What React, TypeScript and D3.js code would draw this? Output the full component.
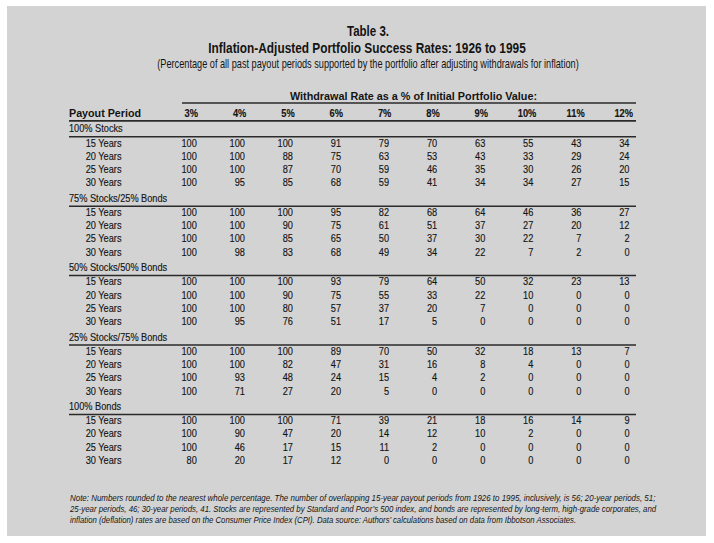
import React, { useLayoutEffect, useRef, useState } from "react";
import * as d3 from "d3";

const rates = ["3%", "4%", "5%", "6%", "7%", "8%", "9%", "10%", "11%", "12%"];
const periods = ["15 Years", "20 Years", "25 Years", "30 Years"];
const groups = [
  "100% Stocks",
  "75% Stocks/25% Bonds",
  "50% Stocks/50% Bonds",
  "25% Stocks/75% Bonds",
  "100% Bonds",
];
const stocks100 = [
  [100, 100, 100, 91, 79, 70, 63, 55, 43, 34],
  [100, 100, 88, 75, 63, 53, 43, 33, 29, 24],
  [100, 100, 87, 70, 59, 46, 35, 30, 26, 20],
  [100, 95, 85, 68, 59, 41, 34, 34, 27, 15],
];
const stocks75 = [
  [100, 100, 100, 95, 82, 68, 64, 46, 36, 27],
  [100, 100, 90, 75, 61, 51, 37, 27, 20, 12],
  [100, 100, 85, 65, 50, 37, 30, 22, 7, 2],
  [100, 98, 83, 68, 49, 34, 22, 7, 2, 0],
];
const stocks50 = [
  [100, 100, 100, 93, 79, 64, 50, 32, 23, 13],
  [100, 100, 90, 75, 55, 33, 22, 10, 0, 0],
  [100, 100, 80, 57, 37, 20, 7, 0, 0, 0],
  [100, 95, 76, 51, 17, 5, 0, 0, 0, 0],
];
const stocks25 = [
  [100, 100, 100, 89, 70, 50, 32, 18, 13, 7],
  [100, 100, 82, 47, 31, 16, 8, 4, 0, 0],
  [100, 93, 48, 24, 15, 4, 2, 0, 0, 0],
  [100, 71, 27, 20, 5, 0, 0, 0, 0, 0],
];
const bonds100 = [
  [100, 100, 100, 71, 39, 21, 18, 16, 14, 9],
  [100, 90, 47, 20, 14, 12, 10, 2, 0, 0],
  [100, 46, 17, 15, 11, 2, 0, 0, 0, 0],
  [80, 20, 17, 12, 0, 0, 0, 0, 0, 0],
];
const groupValues = [stocks100, stocks75, stocks50, stocks25, bonds100];

const titleLines = [
  "Table 3.",
  "Inflation-Adjusted Portfolio Success Rates: 1926 to 1995",
  "(Percentage of all past payout periods supported by the portfolio after adjusting withdrawals for inflation)",
];
const spannerLabel = "Withdrawal Rate as a % of Initial Portfolio Value:";
const rowHeader = "Payout Period";
const noteLines = [
  "Note: Numbers rounded to the nearest whole percentage. The number of overlapping 15-year payout periods from 1926 to 1995, inclusively, is 56; 20-year periods, 51;",
  "25-year periods, 46; 30-year periods, 41. Stocks are represented by Standard and Poor\u2019s 500 index, and bonds are represented by long-term, high-grade corporates, and",
  "inflation (deflation) rates are based on the Consumer Price Index (CPI). Data source: Authors\u2019 calculations based on data from Ibbotson Associates.",
];

const W = 714;
const H = 543;
const FONT = "'Liberation Sans', Arial, sans-serif";
const INK = "#141414";
const LINE = "#2a2a2a";
const SX = 0.83;

type TProps = {
  x: number;
  y: number;
  anchor?: "start" | "middle" | "end";
  bold?: boolean;
  size?: number;
  children: React.ReactNode;
};

function T({ x, y, anchor = "start", bold = false, size = 11.1, children }: TProps) {
  return (
    <text
      transform={`translate(${x},${y}) scale(${SX},1)`}
      textAnchor={anchor}
      fontFamily={FONT}
      fontWeight={bold ? "bold" : "normal"}
      fontSize={size}
      fill={INK}
      stroke={INK}
      strokeWidth={0.15}
    >
      {children}
    </text>
  );
}

type FitProps = {
  x: number;
  y: number;
  width: number;
  anchor?: "start" | "middle" | "end";
  bold?: boolean;
  italic?: boolean;
  size: number;
  text: string;
};

function FitText({ x, y, width, anchor = "start", bold = false, italic = false, size, text }: FitProps) {
  const ref = useRef<SVGTextElement>(null);
  const [s, setS] = useState(0.8);
  useLayoutEffect(() => {
    if (ref.current) {
      const w = ref.current.getComputedTextLength();
      if (w > 0) setS(width / w);
    }
  }, [width, text, size]);
  return (
    <text
      ref={ref}
      transform={`translate(${x},${y}) scale(${s},1)`}
      textAnchor={anchor}
      fontFamily={FONT}
      fontWeight={bold ? "bold" : "normal"}
      fontStyle={italic ? "italic" : "normal"}
      fontSize={size}
      fill={INK}
    >
      {text}
    </text>
  );
}

export default function App() {
  const xNum = d3.scalePoint<string>().domain(rates).range([196.8, 629.5]);
  const xHead = d3.scalePoint<string>().domain(rates).range([198, 633]);
  const yGroup = d3.scaleLinear().domain([0, 4]).range([132.3, 410]);
  const yRow = d3.scaleLinear().domain([0, 3]).range([14.2, 54]);
  const tableLeft = 69;
  const tableRight = 636;

  return (
    <svg
      width={W}
      height={H}
      viewBox={`0 0 ${W} ${H}`}
      style={{ position: "absolute", left: 0, top: 0, display: "block" }}
    >
      <rect x={0} y={0} width={W} height={H} fill="#ffffff" />
      <rect x={7} y={6} width={699} height={530} fill="#d3d3d3" />

      {/* Titles */}
      <FitText x={368} y={36} anchor="middle" bold size={14} width={42} text={titleLines[0]} />
      <FitText x={367} y={53} anchor="middle" bold size={14} width={317} text={titleLines[1]} />
      <FitText x={368} y={67.5} anchor="middle" size={12.5} width={421} text={titleLines[2]} />

      {/* Spanner header */}
      <FitText x={413.5} y={100} anchor="middle" bold size={11.3} width={247} text={spannerLabel} />
      <line x1={182} x2={tableRight} y1={103} y2={103} stroke={LINE} strokeWidth={1.6} />

      {/* Column header row */}
      <FitText x={tableLeft} y={116.7} bold size={11.3} width={72} text={rowHeader} />
      {rates.map((r) => (
        <T key={r} x={xHead(r) as number} y={116.7} anchor="end" bold size={11.2}>
          {r}
        </T>
      ))}
      <line x1={tableLeft} x2={tableRight} y1={120.8} y2={120.8} stroke={LINE} strokeWidth={1.8} />

      {/* Groups */}
      {groups.map((g, gi) => {
        const gy = yGroup(gi);
        return (
          <g key={g}>
            <T x={tableLeft} y={gy}>
              {g}
            </T>
            <line x1={tableLeft} x2={tableRight} y1={gy + 4.4} y2={gy + 4.4} stroke={LINE} strokeWidth={1.5} />
            {periods.map((p, pi) => {
              const ry = gy + yRow(pi);
              return (
                <g key={p}>
                  <T x={85.7} y={ry}>
                    {p}
                  </T>
                  {rates.map((r, ri) => (
                    <T key={r} x={xNum(r) as number} y={ry} anchor="end">
                      {groupValues[gi][pi][ri]}
                    </T>
                  ))}
                </g>
              );
            })}
          </g>
        );
      })}

      {/* Note */}
      {noteLines.map((t, i) => (
        <FitText
          key={i}
          x={70}
          y={[500.5, 512, 523][i]}
          italic
          size={9.6}
          width={[586, 586, 507][i]}
          text={t}
        />
      ))}
    </svg>
  );
}
